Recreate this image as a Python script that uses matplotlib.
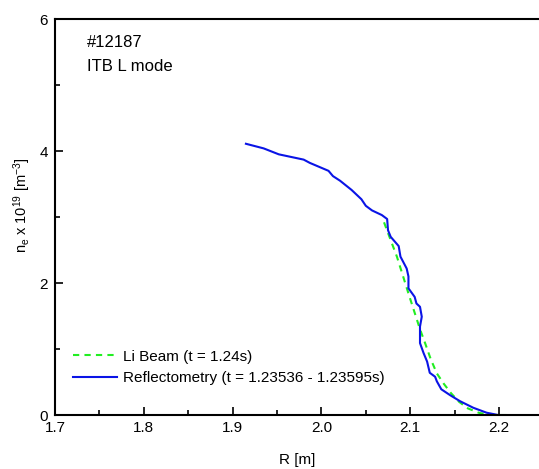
import matplotlib
matplotlib.use('Agg')
import matplotlib.pyplot as plt
from matplotlib.ticker import MultipleLocator

plt.rcParams['font.family'] = ['Liberation Sans', 'DejaVu Sans']
plt.rcParams['mathtext.fontset'] = 'custom'
plt.rcParams['mathtext.rm'] = 'Liberation Sans'
plt.rcParams['mathtext.default'] = 'regular'

# Reflectometry profile (R in m, ne in 1e19 m^-3)
refl_r = [1.915, 1.935, 1.952, 1.980, 1.987, 2.008, 2.013, 2.021, 2.034, 2.045,
          2.050, 2.057, 2.068, 2.074, 2.075, 2.078, 2.087, 2.089, 2.096, 2.098,
          2.098, 2.105, 2.107, 2.111, 2.113, 2.111, 2.111, 2.115, 2.119, 2.122,
          2.128, 2.130, 2.135, 2.145, 2.156, 2.171, 2.186, 2.199]
refl_ne = [4.11, 4.04, 3.95, 3.87, 3.82, 3.70, 3.62, 3.55, 3.41, 3.27,
           3.17, 3.10, 3.03, 2.97, 2.80, 2.70, 2.56, 2.40, 2.22, 2.10,
           1.92, 1.79, 1.69, 1.64, 1.49, 1.34, 1.09, 0.94, 0.81, 0.64,
           0.58, 0.51, 0.39, 0.30, 0.21, 0.11, 0.035, 0.0]

# Li beam profile
li_r = [2.0705, 2.078, 2.085, 2.092, 2.099, 2.105, 2.111, 2.117, 2.123, 2.130,
        2.138, 2.146, 2.155, 2.165, 2.178, 2.195, 2.210]
li_ne = [2.92, 2.65, 2.40, 2.10, 1.80, 1.55, 1.30, 1.08, 0.85, 0.63,
         0.47, 0.33, 0.20, 0.10, 0.03, 0.0, 0.0]

fig = plt.figure(figsize=(5.39, 4.69), dpi=100)
ax = fig.add_axes([0.102, 0.1151, 0.898, 0.8443])

ax.plot(li_r, li_ne, color='#22ee22', linestyle=(0, (3, 2.5)), linewidth=1.5,
        label='Li Beam (t = 1.24s)')
ax.plot(refl_r, refl_ne, color='#0a14e6', linewidth=1.5,
        label='Reflectometry (t = 1.23536 - 1.23595s)')

ax.set_xlim(1.7, 2.245)
ax.set_ylim(0, 6)
ax.xaxis.set_minor_locator(MultipleLocator(0.05))
ax.yaxis.set_major_locator(MultipleLocator(2))
ax.yaxis.set_minor_locator(MultipleLocator(1))
ax.set_xticks([1.7, 1.8, 1.9, 2.0, 2.1, 2.2])
ax.set_xticklabels(['1.7', '1.8', '1.9', '2.0', '2.1', '2.2'])

ax.spines['right'].set_visible(False)
for s in ['left', 'bottom', 'top']:
    ax.spines[s].set_linewidth(1.5)
ax.tick_params(which='both', direction='in', width=1.2, labelsize=11)
ax.tick_params(which='major', length=6)
ax.tick_params(which='minor', length=3.5)
ax.tick_params(axis='x', pad=4)
ax.tick_params(axis='y', pad=5)

ax.set_xlabel('R [m]', fontsize=11, labelpad=13)
ax.set_ylabel('n$_e$ x 10$^{19}$ [m$^{-3}$]', fontsize=10.5)
ax.yaxis.set_label_coords(-0.046, 0.53)

ax.text(0.066, 0.94, '#12187', transform=ax.transAxes, fontsize=12, va='center')
ax.text(0.066, 0.88, 'ITB L mode', transform=ax.transAxes, fontsize=12, va='center')

ax.legend(loc='lower left', bbox_to_anchor=(0.037, 0.075), frameon=False,
          fontsize=11, borderpad=0, borderaxespad=0, handlelength=2.9,
          handletextpad=0.4, labelspacing=0.5)

fig.savefig('out.png', dpi=100)
